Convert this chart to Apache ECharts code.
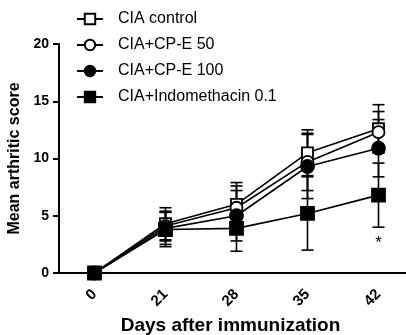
<!DOCTYPE html>
<html>
<head>
<meta charset="utf-8">
<script src="https://cdn.jsdelivr.net/npm/echarts@6/dist/echarts.min.js"></script>
<style>
  html, body { margin: 0; padding: 0; background: #fff; }
  #chart { width: 406px; height: 335px; }
</style>
</head>
<body>
<div id="chart"></div>
<script>
// days after immunization (evenly spaced categories)
const days = ['0', '21', '28', '35', '42'];
const yTicks = [0, 5, 10, 15, 20];

// mean arthritic score and error (+/-) per group
const controlMean = [0, 4.3, 6.0, 10.5, 12.6];
const controlErr = [0, 1.4, 1.9, 2.0, 2.1];
const cpe50Mean = [0, 4.1, 5.7, 9.7, 12.3];
const cpe50Err = [0, 1.3, 1.9, 2.5, 1.8];
const cpe100Mean = [0, 3.9, 5.0, 9.3, 10.9];
const cpe100Err = [0, 1.4, 2.2, 2.8, 2.5];
const indoMean = [0, 3.8, 3.9, 5.2, 6.8];
const indoErr = [0, 1.5, 2.0, 3.2, 2.8];

// significance mark
const starDay = 4;
const starValue = 2.6;

const groups = [
  { name: 'CIA control', mean: controlMean, err: controlErr, symbol: 'rect', size: 11, fill: '#fff' },
  { name: 'CIA+CP-E 50', mean: cpe50Mean, err: cpe50Err, symbol: 'circle', size: 12, fill: '#fff' },
  { name: 'CIA+CP-E 100', mean: cpe100Mean, err: cpe100Err, symbol: 'circle', size: 13, fill: '#000' },
  { name: 'CIA+Indomethacin 0.1', mean: indoMean, err: indoErr, symbol: 'rect', size: 13, fill: '#000' },
];

const chart = echarts.init(document.getElementById('chart'));

const errorBar = (params, api) => {
  const lo = api.coord([api.value(0), api.value(1)]);
  const hi = api.coord([api.value(0), api.value(2)]);
  const half = 6;
  const style = { stroke: '#000', lineWidth: 1.6 };
  return {
    type: 'group',
    children: [
      { type: 'line', shape: { x1: lo[0], y1: lo[1], x2: hi[0], y2: hi[1] }, style },
      { type: 'line', shape: { x1: lo[0] - half, y1: lo[1], x2: lo[0] + half, y2: lo[1] }, style },
      { type: 'line', shape: { x1: hi[0] - half, y1: hi[1], x2: hi[0] + half, y2: hi[1] }, style },
    ],
  };
};

const series = [];
groups.forEach((g) => {
  const bars = [];
  g.mean.forEach((m, i) => {
    if (g.err[i] > 0) bars.push([i, m - g.err[i], m + g.err[i]]);
  });
  series.push({
    type: 'custom',
    name: g.name + ' err',
    renderItem: errorBar,
    data: bars,
    z: 1,
    silent: true,
  });
});
groups.forEach((g, gi) => {
  const s = {
    type: 'line',
    name: g.name,
    data: g.mean,
    symbol: g.symbol,
    symbolSize: g.size,
    showAllSymbol: true,
    lineStyle: { color: '#000', width: 1.6 },
    itemStyle: { color: g.fill, borderColor: '#000', borderWidth: 1.8 },
    z: 3 + gi,
  };
  if (g.name === 'CIA+Indomethacin 0.1') {
    s.markPoint = {
      symbol: 'circle',
      symbolSize: 0,
      data: [{ coord: [starDay, starValue] }],
      label: {
        show: true,
        formatter: '*',
        color: '#000',
        fontSize: 17,
        fontFamily: 'Liberation Sans',
        position: 'inside',
      },
    };
  }
  series.push(s);
});

const option = {
  backgroundColor: '#fff',
  animation: false,
  textStyle: { fontFamily: 'Liberation Sans' },
  grid: { left: 59, top: 44, width: 355, height: 229, containLabel: false, outerBoundsMode: 'none' },
  legend: {
    data: groups.map((g) => g.name),
    orient: 'vertical',
    left: 71,
    top: 6,
    itemWidth: 26,
    itemHeight: 13,
    itemGap: 10,
    textStyle: { color: '#000', fontSize: 16, fontFamily: 'Liberation Sans', padding: [0, 0, 0, 10] },
  },
  xAxis: {
    type: 'category',
    data: days,
    boundaryGap: true,
    name: 'Days after immunization',
    nameLocation: 'middle',
    nameGap: 42,
    nameTextStyle: {
      color: '#000', fontSize: 19, fontWeight: 'bold', fontFamily: 'Liberation Sans',
      padding: [0, 12, 0, 0],
    },
    axisLine: { lineStyle: { color: '#000', width: 2 } },
    axisTick: { alignWithLabel: true, length: 6, lineStyle: { color: '#000', width: 2 } },
    axisLabel: { rotate: 45, color: '#000', fontSize: 15, fontWeight: 'bold', margin: 19 },
    splitLine: { show: false },
  },
  yAxis: {
    type: 'value',
    min: yTicks[0],
    max: yTicks[yTicks.length - 1],
    interval: 5,
    name: 'Mean arthritic score',
    nameLocation: 'middle',
    nameGap: 36,
    nameTextStyle: { color: '#000', fontSize: 16, fontWeight: 'bold', fontFamily: 'Liberation Sans' },
    axisLine: { show: true, lineStyle: { color: '#000', width: 2 } },
    axisTick: { show: true, length: 6, lineStyle: { color: '#000', width: 2 } },
    axisLabel: { color: '#000', fontSize: 14, fontWeight: 'bold', margin: 10 },
    splitLine: { show: false },
  },
  series,
};

chart.setOption(option);
</script>
</body>
</html>
